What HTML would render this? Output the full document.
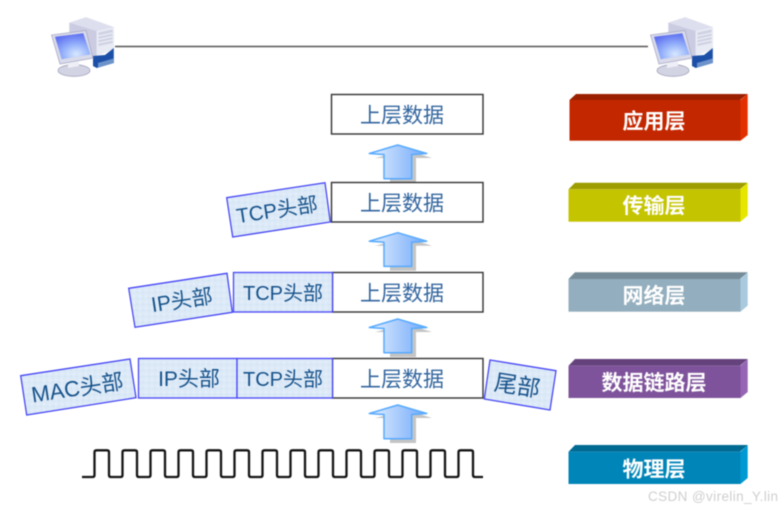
<!DOCTYPE html>
<html><head><meta charset="utf-8">
<style>
html,body{margin:0;padding:0;background:#fff;width:784px;height:509px;overflow:hidden}
svg{display:block;filter:blur(.45px)}
text{font-family:"Liberation Sans","Noto Sans CJK SC",sans-serif}
.d{font-size:21px;fill:#34669f;text-anchor:middle}
.h{font-size:20px;fill:#17528a;text-anchor:middle}
.l{font-size:21px;fill:#fff;font-weight:bold;text-anchor:middle}
</style></head><body>
<svg width="784" height="509" viewBox="0 0 784 509" xmlns="http://www.w3.org/2000/svg">
<defs>
<linearGradient id="ag" x1="0" x2="1" y1="0" y2="0"><stop offset="0" stop-color="#e4effe"/><stop offset="1" stop-color="#70a8fb"/></linearGradient>
<radialGradient id="sc" cx=".6" cy=".8" r=".8"><stop offset="0" stop-color="#d8e8ff"/><stop offset=".45" stop-color="#98b4fb"/><stop offset="1" stop-color="#5d6ff0"/></radialGradient>
<g id="pc">
<polygon points="69.3,22.7 86,17.3 114,27.3 96.7,31 96.7,60 69.3,45" fill="#cbcce2"/>
<polygon points="69.3,22.7 86,17.3 114,27.3 96.7,31" fill="#dedfee"/>
<polygon points="96.7,31 114,27.3 114,49 96.7,56" fill="#e8eaf4"/>
<polygon points="98.5,32.5 112.5,29.5 112.5,43 98.5,46" fill="#cfd2e3"/>
<path d="M98.5 36l14-3M98.5 39.5l14-3M98.5 43l14-3" stroke="#f2f3f9" stroke-width=".9" fill="none"/>
<polygon points="93,56 105,55 113.8,48 113.8,63 96.7,68 93,66" fill="#1c50a8"/>
<polygon points="98,63 113.5,58.5 113.5,63 98,67.5" fill="#6d93cc"/>
<polygon points="51.5,35 86,30.5 93,58 60,64" fill="#d9daea" stroke="#a9abc6" stroke-width=".8"/>
<polygon points="55,36.7 83.3,33.3 90.5,54.5 61.7,59.3" fill="url(#sc)"/>
<ellipse cx="74" cy="70.5" rx="16" ry="5.8" fill="#d3d4e3" stroke="#a2a4bd" stroke-width=".8"/>
<polygon points="68,63 79,61 79,66 68,68" fill="#eeeff6"/>
</g>
<g id="ar">
<polygon points="375,158 396,153 416,153 432,158 416,158 416,183 390,183 390,158" fill="#c4c4c4"/>
<polygon points="397.7,145 426.7,153.5 411.7,154.5 411.7,178.7 384,178.7 384,154.5 369.3,153.5" fill="url(#ag)" stroke="#56aaff" stroke-width="1.5" stroke-linejoin="round"/>
</g>
<pattern id="pt" width="6" height="6" patternUnits="userSpaceOnUse"><rect width="6" height="6" fill="#dce9f7"/><circle cx="2" cy="2" r="1.2" fill="#e6f0fa"/><circle cx="5" cy="4.5" r="1" fill="#d4e3f4"/></pattern>
</defs>

<line x1="115" y1="46.5" x2="648" y2="46.5" stroke="#555" stroke-width="1.5"/>
<use href="#pc"/>
<use href="#pc" x="599"/>

<!-- arrows -->
<use href="#ar"/>
<use href="#ar" y="87.7"/>
<use href="#ar" y="174"/>
<use href="#ar" y="260"/>

<!-- data boxes -->
<g fill="#fff" stroke="#333" stroke-width="1.4">
<rect x="331.5" y="94.5" width="151.5" height="39.5"/>
<rect x="331.5" y="182.5" width="151.5" height="39.5"/>
<rect x="332.5" y="272.5" width="150.5" height="39.5"/>
<rect x="332.5" y="358.5" width="150.5" height="39.5"/>
</g>
<text class="d" x="402" y="122.5">上层数据</text>
<text class="d" x="402" y="210.5">上层数据</text>
<text class="d" x="402" y="300.5">上层数据</text>
<text class="d" x="402" y="386.5">上层数据</text>

<!-- headers -->
<g fill="url(#pt)" stroke="#4646f5" stroke-width="1.3">
<polygon points="226.7,197.7 325,182.7 330.3,222 232.7,237"/>
<polygon points="128.7,288.3 227,273.3 232.3,312.3 135,327.3"/>
<rect x="233.5" y="272.5" width="99" height="39.5"/>
<polygon points="20.7,375.7 130,359 136,397.7 26.7,415"/>
<rect x="138.5" y="358.5" width="98.5" height="39.5"/>
<rect x="237" y="358.5" width="95.5" height="39.5"/>
<polygon points="490,360 556,370.7 550,410 484.3,399"/>
</g>
<text class="h" style="font-size:20.5px" transform="translate(278 217) rotate(-8.7)">TCP头部</text>
<text class="h" style="font-size:21px" transform="translate(183 307.5) rotate(-8.7)">IP头部</text>
<text class="h" x="283" y="300">TCP头部</text>
<text class="h" style="font-size:22px" transform="translate(78.5 395.5) rotate(-8.7)">MAC头部</text>
<text class="h" style="font-size:21px" x="189" y="386">IP头部</text>
<text class="h" x="283" y="386">TCP头部</text>
<text class="h" style="font-size:23px" transform="translate(516 393.5) rotate(9)">尾部</text>

<!-- square wave: 14 pulses -->
<path d="M82 477H92.5
q2 0 2-2v-22.7q0-2 2-2h10.5q2 0 2 2v22.7q0 2 2 2h9.5
q2 0 2-2v-22.7q0-2 2-2h10.5q2 0 2 2v22.7q0 2 2 2h9.5
q2 0 2-2v-22.7q0-2 2-2h10.5q2 0 2 2v22.7q0 2 2 2h9.5
q2 0 2-2v-22.7q0-2 2-2h10.5q2 0 2 2v22.7q0 2 2 2h9.5
q2 0 2-2v-22.7q0-2 2-2h10.5q2 0 2 2v22.7q0 2 2 2h9.5
q2 0 2-2v-22.7q0-2 2-2h10.5q2 0 2 2v22.7q0 2 2 2h9.5
q2 0 2-2v-22.7q0-2 2-2h10.5q2 0 2 2v22.7q0 2 2 2h9.5
q2 0 2-2v-22.7q0-2 2-2h10.5q2 0 2 2v22.7q0 2 2 2h9.5
q2 0 2-2v-22.7q0-2 2-2h10.5q2 0 2 2v22.7q0 2 2 2h9.5
q2 0 2-2v-22.7q0-2 2-2h10.5q2 0 2 2v22.7q0 2 2 2h9.5
q2 0 2-2v-22.7q0-2 2-2h10.5q2 0 2 2v22.7q0 2 2 2h9.5
q2 0 2-2v-22.7q0-2 2-2h10.5q2 0 2 2v22.7q0 2 2 2h9.5
q2 0 2-2v-22.7q0-2 2-2h10.5q2 0 2 2v22.7q0 2 2 2h9.5
q2 0 2-2v-22.7q0-2 2-2h10.5q2 0 2 2v22.7q0 2 2 2H483" fill="none" stroke="#141414" stroke-width="2.3"/>

<!-- layers -->
<polygon points="569.5,100 576,94 747.7,94 740,100" fill="#9a2000"/>
<rect x="569.5" y="100" width="171" height="40.7" fill="#c32700"/>
<polygon points="740.5,100 747.7,94 747.7,135 740.5,140.7" fill="#e33000"/>
<text class="l" x="654" y="128.5">应用层</text>

<polygon points="568.5,189.3 575,182.7 747.7,182.7 740,189.3" fill="#9d9d00"/>
<rect x="568.5" y="189.3" width="172" height="32.4" fill="#c4c400"/>
<polygon points="740.5,189.3 747.7,182.7 747.7,215.5 740.5,221.7" fill="#e6e600"/>
<text class="l" x="654" y="213">传输层</text>

<polygon points="568.5,279 575,272.3 747.7,272.3 740,279" fill="#768b98"/>
<rect x="568.5" y="279" width="172" height="32.7" fill="#93aebe"/>
<polygon points="740.5,279 747.7,272.3 747.7,305.5 740.5,311.7" fill="#a9c9de"/>
<text class="l" x="654" y="303">网络层</text>

<polygon points="568.5,365.7 575,359 747.7,359 740,365.7" fill="#65427c"/>
<rect x="568.5" y="365.7" width="172" height="32.3" fill="#7f539b"/>
<polygon points="740.5,365.7 747.7,359 747.7,392 740.5,398" fill="#9666b4"/>
<text class="l" x="654" y="390">数据链路层</text>

<polygon points="568.5,451.7 575,445 747.7,445 740,451.7" fill="#006a93"/>
<rect x="568.5" y="451.7" width="172" height="32.3" fill="#0085b8"/>
<polygon points="740.5,451.7 747.7,445 747.7,478 740.5,484" fill="#0099d4"/>
<text class="l" x="654" y="476.5">物理层</text>

<text x="648" y="501" font-size="13.5" fill="#cfcfcf" textLength="130">CSDN @virelin_Y.lin</text>
</svg>
</body></html>
